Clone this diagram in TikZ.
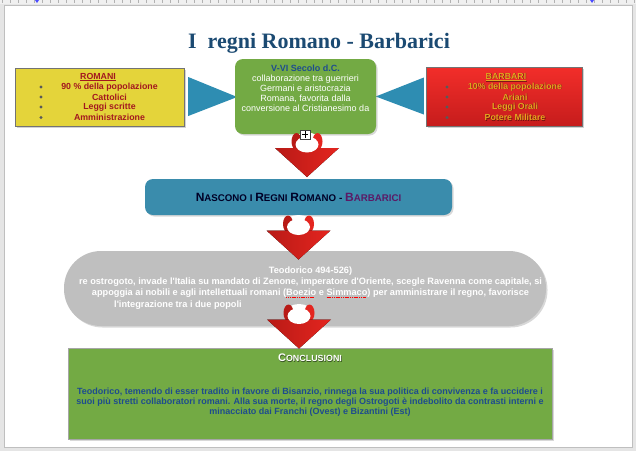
\documentclass[tikz,border=0pt]{standalone}
\usepackage{fontspec}
\setmainfont{Liberation Serif}
\newfontfamily\arial{Liberation Sans}
\usetikzlibrary{shadows,calc}
\definecolor{titleblue}{HTML}{1B4A72}
\definecolor{yel}{HTML}{E4D43A}
\definecolor{romred}{HTML}{A3171F}
\definecolor{barredA}{HTML}{F22E2A}
\definecolor{barredB}{HTML}{C61C1C}
\definecolor{gold}{HTML}{E3A51F}
\definecolor{grn}{HTML}{73AA44}
\definecolor{tealbox}{HTML}{3A8CAC}
\definecolor{arrowblue}{HTML}{2E8DB2}
\definecolor{pillgray}{HTML}{BFBFBF}
\definecolor{dkblue}{HTML}{1E4C8E}
\definecolor{purp}{HTML}{5B1A66}
\definecolor{arrred}{HTML}{E4251F}
\definecolor{arrredD}{HTML}{B81A16}
\definecolor{spellred}{HTML}{FF0000}
\newcommand{\fsz}[2]{\fontsize{#1}{#2}\selectfont}
\newcommand{\SCa}[2]{{\fsz{12}{12}#1}{\fsz{9.7}{9.7}#2}}
\newcommand{\SCb}[2]{{\fsz{11}{11}#1}{\fsz{8.9}{8.9}#2}}
\newsavebox{\spellbox}
\newcommand{\spellmark}[1]{\sbox{\spellbox}{#1}\leavevmode\rlap{\raisebox{-0.55ex}{\textcolor{spellred}{\hbox to \wd\spellbox{\leaders\hbox{\rule{1.2pt}{1pt}\kern0.6pt}\hfill}}}}\usebox{\spellbox}}
\tikzset{
  redarrow/.pic={
    \fill[white] (0,0) ellipse [x radius=13, y radius=8.5];
    \fill[arrredD] (-10.5,0.5) ellipse [x radius=5, y radius=8.5];
    \fill[arrred] (10.5,0.5) ellipse [x radius=5, y radius=8.5];
    \fill[left color=arrredD, right color=arrred] (-32,7) -- (32,7) -- (0,36) -- cycle;
    \fill[white] (0,3.5) ellipse [x radius=11.5, y radius=8];
  },
  sidebox/.style={draw=black!55, drop shadow={opacity=0.35,shadow xshift=1.5pt,shadow yshift=-1.5pt}},
  roundbox/.style={rounded corners=#1, drop shadow={opacity=0.3,shadow xshift=1.5pt,shadow yshift=-1.5pt}},
  romtxt/.style={font=\arial\bfseries\fsz{8.8}{8.8}, text=romred, inner sep=0},
  bartxt/.style={font=\arial\bfseries\fsz{8.8}{8.8}, text=gold, inner sep=0},
  barsh/.style={font=\arial\bfseries\fsz{8.8}{8.8}, text=black, opacity=0.45, inner sep=0},
  bul/.style={fill=black!65},
}
\begin{document}
\begin{tikzpicture}[x=1pt,y=-1pt]
% page background
\useasboundingbox (0,0) rectangle (636,451);
\fill[black!10] (0,0) rectangle (636,451);
\fill[black!6] (0,0) rectangle (636,4);
\foreach \x in {2,10,...,636} \draw[black!30, line width=0.4] (\x,0) -- (\x,2.5);
\fill[white] (4,5) rectangle (632,447);
\draw[black!25, line width=0.6] (4,5) rectangle (632,447);
\fill[blue!70] (35,0) -- (39,0) -- (37,3) -- cycle;
\fill[blue!70] (590,0) -- (594,0) -- (592,3) -- cycle;

% title
\node[font=\bfseries\fsz{22}{22}, text=titleblue, inner sep=0] (title) at (319,43) {I\ \ regni Romano - Barbarici};

% side boxes
\node[sidebox, fill=yel, minimum width=169, minimum height=58, inner sep=0] (romani) at (99.5,97) {};
\node[sidebox, top color=barredA, bottom color=barredB, minimum width=156, minimum height=59, inner sep=0] (barbari) at (504,96.5) {};

% blue side arrows
\coordinate (lt) at ($(romani.east)+(4,0)$);
\coordinate (rt) at ($(barbari.west)+(-2,0)$);
\fill[arrowblue] ($(lt)+(0,-20)$) -- ($(lt)+(0,19)$) -- ($(lt)+(49,0)$) -- cycle;
\fill[arrowblue] ($(rt)+(0,-19)$) -- ($(rt)+(0,18)$) -- ($(rt)+(-48,0)$) -- cycle;

% top green box
\node[roundbox=8, fill=grn, minimum width=141, minimum height=75, inner sep=0] (epoca) at (305.5,96.5) {};
\node[font=\arial\fsz{9}{10}, text=white, align=center, inner sep=0] (epocatxt) at (305.5,88.5)
  {{\color{dkblue}\bfseries V-VI Secolo d.C.}\\collaborazione tra guerrieri\\Germani e aristocrazia\\Romana, favorita dalla\\conversione al Cristianesimo da};

% ROMANI text
\node[romtxt] (rom0) at (98,77) {\underline{ROMANI}};
\foreach \t/\y/\n in {90 \% della popolazione/87/a, Cattolici/97/b, Leggi scritte/107/c, Amministrazione/117.5/d} {
  \fill[bul] (41,\y) circle (1.6);
  \node[romtxt] (rom\n) at (109.5,\y) {\t};
}
% BARBARI text
\node[barsh] at (506.6,77.6) {\underline{BARBARI}};
\node[bartxt] (bar0) at (506,77) {\underline{BARBARI}};
\foreach \t/\y/\n in {10\% della popolazione/87/a, Ariani/97/b, Leggi Orali/107/c, Potere Militare/117.5/d} {
  \fill[bul] (447,\y) circle (1.6);
  \node[barsh] at (515.6,\y+0.6) {\t};
  \node[bartxt] (bar\n) at (515,\y) {\t};
}

% middle blue box
\node[roundbox=8, fill=tealbox, minimum width=307, minimum height=36, inner sep=0] (nascono) at (298.5,197) {};
\node[font=\arial\bfseries, text=black!85!blue, inner sep=0] (nasctxt) at (298.5,197)
  {\SCa{N}{ASCONO} \SCa{}{I} \SCa{R}{EGNI} \SCa{R}{OMANO} - \textcolor{purp}{\SCa{B}{ARBARICI}}};

% gray pill
\node[roundbox=37, fill=pillgray, minimum width=482, minimum height=75, inner sep=0] (teod) at (305,288.5) {};
\node[font=\arial\bfseries\fsz{9.2}{11.3}, text=white, align=center, inner sep=0] (teodtxt) at (310.5,282.3)
  {Teodorico 494-526)\\re ostrogoto, invade l'Italia su mandato di Zenone, imperatore d'Oriente, scegle Ravenna come capitale, si\\appoggia ai nobili e agli intellettuali romani (\spellmark{Boezio} e \spellmark{Simmaco}) per amministrare il regno, favorisce};
\node[font=\arial\bfseries\fsz{9.2}{11.3}, text=white, anchor=west, inner sep=0] (teodtxt2) at (114,305) {l'integrazione tra i due popoli};

% conclusion box
\node[draw=black!35, fill=grn, minimum width=484, minimum height=91, inner sep=0,
  drop shadow={opacity=0.3,shadow xshift=1.5pt,shadow yshift=-1.5pt}] (concl) at (310,393.5) {};
\node[font=\arial\bfseries, text=black, opacity=0.5, inner sep=0] at (310.6,358.6) {\SCb{C}{ONCLUSIONI}};
\node[font=\arial\bfseries, text=white, inner sep=0] (concltit) at (310,358) {\SCb{C}{ONCLUSIONI}};
\node[font=\arial\bfseries\fsz{9}{10}, text=dkblue, align=center, inner sep=0] (concltxt) at (310,402)
  {Teodorico, temendo di esser tradito in favore di Bisanzio, rinnega la sua politica di convivenza e fa uccidere i\\suoi più stretti collaboratori romani. Alla sua morte, il regno degli Ostrogoti è indebolito da contrasti interni e\\minacciato dai Franchi (Ovest) e Bizantini (Est)};

% red down arrows
\pic at (307,141) {redarrow};
\begin{scope}[shift={(298.5,223.5)}, xscale=0.92, yscale=0.73]
  \pic at (0,0) {redarrow};
\end{scope}
\begin{scope}[shift={(299,312.5)}, xscale=0.92, yscale=0.75]
  \pic at (0,0) {redarrow};
\end{scope}
% plus box
\node[draw=black!75, fill=white, minimum size=9.5, inner sep=0, line width=0.5] (plus) at (305,134.5) {};
\draw[black, line width=0.7] ($(plus.center)+(-3.2,0)$) -- ($(plus.center)+(3.2,0)$);
\draw[black, line width=0.7] ($(plus.center)+(0,-3.2)$) -- ($(plus.center)+(0,3.2)$);
\end{tikzpicture}
\end{document}
